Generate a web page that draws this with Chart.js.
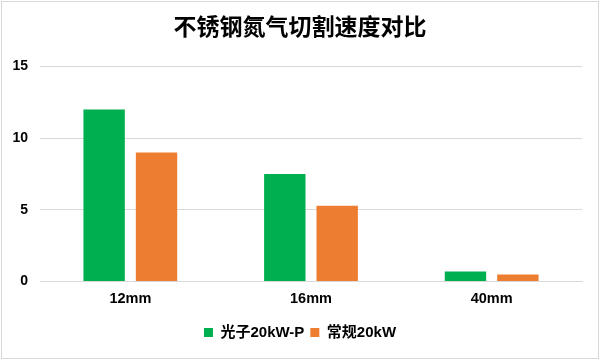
<!DOCTYPE html>
<html>
<head>
<meta charset="utf-8">
<script src="https://cdn.jsdelivr.net/npm/chart.js@4/dist/chart.umd.min.js"></script>
<style>
html,body{margin:0;padding:0;background:#fff;}
canvas{display:block;}
</style>
</head>
<body>
<canvas id="c" width="600" height="360"></canvas>
<script>
const categories = ['12mm', '16mm', '40mm'];
const seriesNames = ['光子20kW-P', '常规20kW'];
const photonValues = [12, 7.5, 0.7];
const normalValues = [9, 5.3, 0.5];
const titleText = '不锈钢氮气切割速度对比';

const FONT = '"Liberation Sans", "Noto Sans CJK SC", Arial, sans-serif';

const borderPlugin = {
  id: 'outerBorder',
  beforeDraw(chart) {
    const ctx = chart.ctx;
    ctx.save();
    ctx.fillStyle = '#ffffff';
    ctx.fillRect(0, 0, chart.width, chart.height);
    ctx.strokeStyle = '#d9d9d9';
    ctx.lineWidth = 1;
    ctx.strokeRect(1.5, 1.5, chart.width - 3, chart.height - 3);
    ctx.restore();
  }
};

new Chart(document.getElementById('c'), {
  type: 'bar',
  data: {
    labels: categories,
    datasets: [
      { label: seriesNames[0], data: photonValues, backgroundColor: '#00b050', borderWidth: 0 },
      { label: seriesNames[1], data: normalValues, backgroundColor: '#ed7d31', borderWidth: 0 }
    ]
  },
  options: {
    responsive: false,
    animation: false,
    devicePixelRatio: 1,
    layout: { padding: { left: 0, right: 0, top: 8, bottom: 10 } },
    datasets: { bar: { categoryPercentage: 0.58, barPercentage: 0.79 } },
    plugins: {
      title: {
        display: true,
        text: titleText,
        color: '#000000',
        font: { family: FONT, size: 23, weight: 'bold' },
        padding: { top: 7, bottom: 24 }
      },
      legend: {
        position: 'bottom',
        labels: {
          color: '#000000',
          boxWidth: 9,
          boxHeight: 9,
          padding: 6,
          font: { family: FONT, size: 15, weight: 'bold' }
        }
      },
      tooltip: { enabled: false }
    },
    scales: {
      x: {
        grid: { display: false, drawTicks: false },
        border: { color: '#d9d9d9', width: 1 },
        ticks: { color: '#000000', padding: 9, font: { family: FONT, size: 14.5, weight: 'bold' } },
        afterFit(scale) { scale.height += 2; }
      },
      y: {
        min: 0, max: 15,
        ticks: { stepSize: 5, color: '#000000', padding: 12, font: { family: FONT, size: 14, weight: 'bold' } },
        grid: { color: '#d9d9d9', drawTicks: false },
        border: { display: false },
        afterFit(scale) { scale.width = 40; }
      },
      yRight: {
        position: 'right',
        display: true,
        min: 0, max: 15,
        grid: { display: false, drawTicks: false },
        border: { display: false },
        ticks: { display: false },
        afterFit(scale) { scale.width = 18; }
      }
    }
  },
  plugins: [borderPlugin]
});
</script>
</body>
</html>
